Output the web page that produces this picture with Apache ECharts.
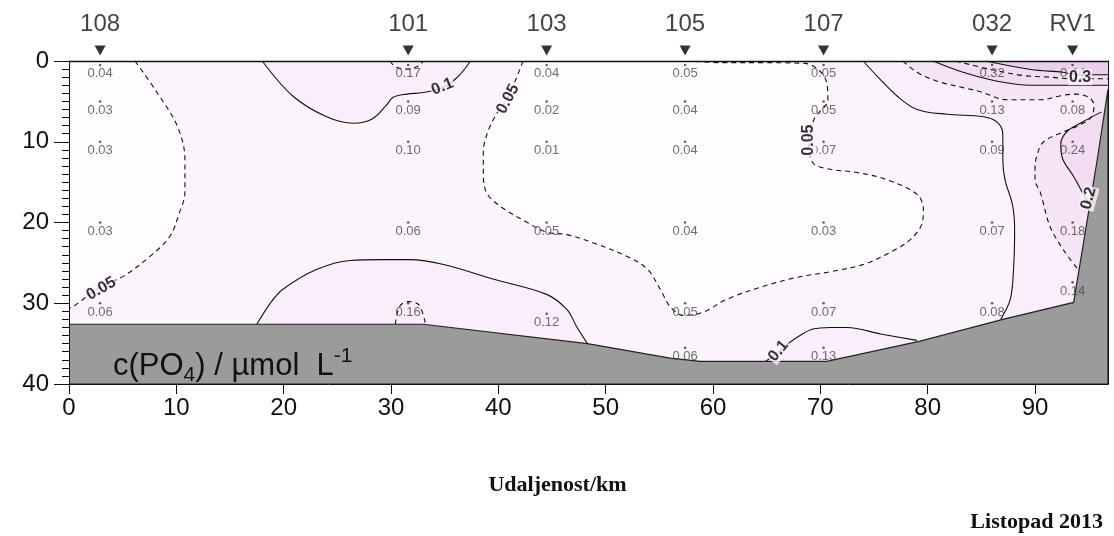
<!DOCTYPE html>
<html><head><meta charset="utf-8">
<script src="https://cdn.jsdelivr.net/npm/echarts@6/dist/echarts.min.js"></script>
<style>html,body{margin:0;padding:0;background:#fff}#c{width:1114px;height:536px}</style>
</head><body><div id="c"></div>
<script>
// ---- axis ticks ----
const xTicks = [0,10,20,30,40,50,60,70,80,90];
const xMax = 96.8;
const yTicks = [0,10,20,30,40];

// ---- stations ----
const stationNames = ['108','101','103','105','107','032','RV1'];
const stationKm = [2.9,31.6,44.5,57.4,70.3,86.0,93.5];

// ---- sample depths (m) and PO4 values (µmol/L) per station ----
const depths108 = [0.5,5,10,20,30];        const values108 = [0.04,0.03,0.03,0.03,0.06];
const depths101 = [0.5,5,10,20,30];        const values101 = [0.17,0.09,0.10,0.06,0.16];
const depths103 = [0.5,5,10,20,31.3];      const values103 = [0.04,0.02,0.01,0.05,0.12];
const depths105 = [0.5,5,10,20,30,35.5];   const values105 = [0.05,0.04,0.04,0.04,0.05,0.06];
const depths107 = [0.5,5,10,20,30,35.5];   const values107 = [0.05,0.05,0.07,0.03,0.07,0.13];
const depths032 = [0.5,5,10,20,30];        const values032 = [0.32,0.13,0.09,0.07,0.08];
const depthsRV1 = [0.5,5,10,20,27.4];      const valuesRV1 = [0.44,0.08,0.24,0.18,0.14];

// ---- sea bottom profile ----
const bottomKm    = [0,33,48.3,56,58.8,70.6,79.3,87,93.6,95.8,96.8];
const bottomDepth = [32.6,32.6,35.0,36.8,37.2,37.2,34.7,32.0,29.9,12.2,3.5];

// ---- contour lines [km, depth] ----
const c005left = [[6.15,0],[8.2,3.9],[10.1,8.1],[10.8,12.2],[10.8,16.3],[10.3,18.75],[9.4,21.7],[7.55,24.2],[5.0,26.7],[2.9,28.0],[0.4,30.4],[0,30.6]];
const c01top = [[18.0,0],[20.9,4.4],[24.0,6.9],[26.5,7.7],[28.2,7.2],[29.5,5.6],[30.2,4.5],[31.5,4.1],[33.0,3.9],[34.8,3.3],[36.2,2.0],[37.4,0]];
const c015top101 = [[29.9,0],[30.4,0.7],[31.4,1.0],[32.6,0.6],[33.0,0]];
const c015bot101 = [[30.4,32.6],[30.8,30.4],[31.6,29.8],[32.6,30.2],[33.2,32.5]];
const c005mid = [[42.3,0],[40.8,4.8],[39.9,6.4],[39.0,8.85],[38.6,11.3],[38.6,13.8],[38.9,16.3],[40.2,18.0],[42.7,20.0],[44.5,21.2],[46.4,21.5],[48.8,22.5],[52.0,24.2],[53.9,25.8],[55.1,28.3],[56.0,30.4],[57.2,31.5],[59.1,31.1],[61.3,29.5],[64.7,27.9],[67.8,26.8],[70.9,26.1],[74.0,25.2],[76.5,23.7],[78.4,22.1],[79.5,20.0],[79.6,18.4],[79.0,16.5],[76.2,14.7],[73.4,13.8],[70.9,13.4],[69.3,12.6],[68.9,9.7],[69.5,7.0],[70.7,4.8],[70.5,2.3],[68.6,0.3],[64.4,0.2],[60.7,0.2],[57.9,0]];
const c01bottom = [[17.5,32.6],[18.7,30.1],[19.9,28.3],[23.1,25.8],[26.2,24.7],[29.0,24.6],[31.8,24.6],[34.9,25.2],[39.5,27.0],[44.5,28.9],[46.4,30.8],[47.3,32.9],[48.3,35.0]];
const c01st107 = [[64.9,37.2],[66.1,36.0],[66.9,35.1],[68.1,34.0],[69.3,33.2],[70.9,33.0],[72.5,33.0],[75.6,33.8],[79.0,34.6]];
const c01right = [[74.0,0],[75.3,1.9],[77.2,4.4],[79.0,6.0],[81.8,6.6],[85.2,6.9],[86.5,7.6],[87.0,9.1],[87.0,12.2],[87.2,14.7],[87.9,17.8],[88.1,20.9],[88.0,25.8],[87.7,29.5],[86.8,32.0]];
const c015right = [[77.7,0],[79.0,1.4],[80.9,2.5],[83.3,3.3],[84.9,3.8],[87.4,4.8],[90.5,4.8],[92.4,4.3],[93.7,4.1],[95.0,4.5],[95.5,5.5],[95.2,7.0],[94.2,7.9],[92.6,8.8],[90.8,10.0],[90.2,11.6],[90.0,13.2],[90.0,14.7],[90.5,16.3],[91.4,20.5],[92.6,23.3],[94.0,25.8]];
const c02top = [[80.5,0],[83.3,1.4],[86.5,2.5],[89.6,3.0],[92.4,3.0],[94.7,3.0],[96.8,3.0]];
const c025top = [[82.6,0],[85.9,1.05],[88.9,1.8],[91.4,2.0],[93.3,2.2],[96.8,2.2]];
const c03top = [[85.4,0],[89.6,1.05],[92.6,1.4],[93.9,1.7],[96.8,1.7]];
const c02rv1 = [[96.2,6.3],[94.5,7.5],[93.0,8.7],[92.4,10.3],[92.6,12.2],[93.6,14.3],[94.5,16.5],[95.1,17.8]];

// ---- contour labels ----
const contourLabelText  = ['0.05','0.1','0.05','0.05','0.1','0.3','0.2'];
const contourLabelKm    = [3.0,34.8,40.9,68.9,66.1,94.2,95.0];
const contourLabelDepth = [28.2,3.2,4.7,9.8,35.9,2.0,17.0];
const contourLabelAngle = [30,22,62,90,50,0,75];

// ---- texts ----
const xAxisTitle = 'Udaljenost/km';
const dateText = 'Listopad 2013';

// ---------------------------------------------------------------
const FONT = '"Liberation Sans", Arial, sans-serif';
const SERIF = '"Liberation Serif", "Times New Roman", serif';
const chart = echarts.init(document.getElementById('c'), null, {renderer:'canvas'});

const bottomPoly = bottomKm.map((k,i)=>[k,bottomDepth[i]]).concat([[xMax,40],[0,40]]);

function polySeries(points, fill, z, stroke){
  return {
    type:'custom', coordinateSystem:'cartesian2d', silent:true, z:z, clip:true,
    data:[[0,0]], animation:false,
    renderItem:(params, api)=>({
      type:'polygon',
      shape:{points: points.map(p=>api.coord(p))},
      style:{fill:fill, stroke: stroke||null, lineWidth:1.2}
    })
  };
}
function lineSeries(points, dashed){
  return {
    type:'line', data:points, symbol:'none', smooth:0.35, z:5, silent:true, animation:false,
    clip:true,
    lineStyle:{color:'#111', width:1.1, type: dashed ? [5,4] : 'solid'}
  };
}

// fill regions
const fills = [
  polySeries(c005left.concat([[0,0]]), '#fffdff', 1),
  polySeries(c005mid, '#fffdff', 1),
  polySeries(c01top, '#f9eef9', 1),
  polySeries(c01bottom.concat([[48.3,40],[17.5,40]]), '#f9eef9', 1),
  polySeries(c01st107.concat([[79,40],[64.9,40]]), '#f9eef9', 1),
  polySeries(c01right.concat([[86.8,40],[xMax,40],[xMax,0]]), '#f9eef9', 1),
  polySeries(c015right.concat([[94,40],[xMax,40],[xMax,0]]), '#f5e4f5', 2),
  polySeries(c02top.concat([[xMax,0]]), '#f1dcf1', 3),
  polySeries(c02rv1.concat([[96,40],[xMax,40],[xMax,6.3]]), '#f1dcf1', 3),
  polySeries(c03top.concat([[xMax,0]]), '#ebd0eb', 3)
];

const lines = [
  lineSeries(c005left,true), lineSeries(c01top,false), lineSeries(c015top101,true),
  lineSeries(c015bot101,true), lineSeries(c005mid,true), lineSeries(c01bottom,false),
  lineSeries(c01st107,false), lineSeries(c01right,false), lineSeries(c015right,true),
  lineSeries(c02top,false), lineSeries(c025top,true), lineSeries(c03top,false),
  lineSeries(c02rv1,false)
];

// sample labels
const stationDepths = [depths108,depths101,depths103,depths105,depths107,depths032,depthsRV1];
const stationValues = [values108,values101,values103,values105,values107,values032,valuesRV1];
const sampleData = [];
stationDepths.forEach((ds,si)=>ds.forEach((d,j)=>sampleData.push([stationKm[si], d, stationValues[si][j]])));

const contourLabels = contourLabelText.map((t,i)=>({
  value:[contourLabelKm[i], contourLabelDepth[i], t],
  label:{rotate: contourLabelAngle[i]}
}));

const option = {
  animation:false,
  backgroundColor:'#ffffff',
  grid:{left:69, right:6, top:61, bottom:152, show:true, backgroundColor:'#fcf4fc', borderColor:'#111', borderWidth:0},
  title:[
    {text:'c(PO{sub|4}) / µmol  L{sup|-1}', left:108, top:341, z:30,
      textStyle:{fontFamily:FONT, fontSize:31, fontWeight:'normal', color:'#111',
        rich:{sub:{fontFamily:FONT, fontSize:21, color:'#111', padding:[19,0,0,0]},
              sup:{fontFamily:FONT, fontSize:21, color:'#111', padding:[0,0,19,0]}}}},
    {text: dateText, right:6, top:506, z:30, textStyle:{fontFamily:SERIF, fontSize:22, fontWeight:'bold', color:'#111'}}
  ],
  xAxis:[{
    type:'value', min:0, max:xMax, interval:10, position:'bottom', z:40,
    name: xAxisTitle, nameLocation:'middle', nameGap:90,
    nameTextStyle:{fontFamily:SERIF, fontSize:22, fontWeight:'bold', color:'#111', padding:[0,62,0,0]},
    axisLine:{show:true, onZero:false, lineStyle:{color:'#111', width:1}},
    axisTick:{show:true, inside:false, length:10, customValues:xTicks, lineStyle:{color:'#111'}},
    axisLabel:{show:true, margin:12, fontFamily:FONT, fontSize:24, color:'#111', customValues:xTicks},
    splitLine:{show:false}, minorTick:{show:false}, minorSplitLine:{show:false}
  },{
    type:'value', min:0, max:xMax, position:'top', z:40,
    axisLine:{show:true, onZero:false, lineStyle:{color:'#111', width:1.3}},
    axisTick:{show:false}, minorTick:{show:false}, axisLabel:{show:false}, splitLine:{show:false}
  }],
  yAxis:[{
    type:'value', min:0, max:40, interval:10, inverse:true, z:40,
    axisLine:{show:true, onZero:false, lineStyle:{color:'#111', width:1}},
    axisTick:{show:true, inside:false, length:15, customValues:yTicks, lineStyle:{color:'#111'}},
    minorTick:{show:true, splitNumber:10, length:7, lineStyle:{color:'#111'}},
    axisLabel:{show:true, margin:20, fontFamily:FONT, fontSize:24, color:'#111', customValues:yTicks},
    splitLine:{show:false}
  },{
    type:'value', min:0, max:40, inverse:true, position:'right', z:40,
    axisLine:{show:true, onZero:false, lineStyle:{color:'#111', width:1}},
    axisTick:{show:false}, minorTick:{show:false}, axisLabel:{show:false}, splitLine:{show:false}
  }],
  series:[
    ...fills,
    ...lines,
    polySeries(bottomPoly, '#9b9b9b', 8, '#222'),
    { // sample values
      type:'scatter', data:sampleData, symbol:'circle', symbolSize:2.5, z:10, silent:true, animation:false,
      itemStyle:{color:'#333'},
      label:{show:true, position:'bottom', distance:1, formatter:p=>p.value[2].toFixed(2),
        fontFamily:FONT, fontSize:13, color:'#4a4a4a'}
    },
    { // contour labels
      type:'scatter', data:contourLabels, symbolSize:0, z:12, silent:true, animation:false,
      label:{show:true, position:'inside', formatter:p=>p.value[2], fontFamily:FONT, fontSize:16,
        fontWeight:'bold', color:'#000', backgroundColor:'#fcf4fc', padding:[0,1]}
    },
    { // station markers
      type:'scatter', data: stationKm.map((k,i)=>[k,-1.3,stationNames[i]]), clip:false,
      symbol:'triangle', symbolRotate:180, symbolSize:[11,10], z:12, silent:true, animation:false,
      itemStyle:{color:'#000'},
      label:{show:true, position:'top', distance:9, formatter:p=>p.value[2], fontFamily:FONT, fontSize:24, color:'#111'}
    }
  ]
};
chart.setOption(option);
</script></body></html>
